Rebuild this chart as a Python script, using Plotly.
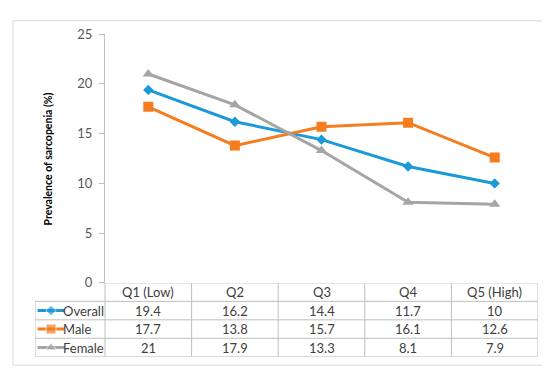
import plotly.graph_objects as go

categories = ["Q1 (Low)", "Q2", "Q3", "Q4", "Q5 (High)"]
overall = [19.4, 16.2, 14.4, 11.7, 10]
male = [17.7, 13.8, 15.7, 16.1, 12.6]
female = [21, 17.9, 13.3, 8.1, 7.9]
series_names = ["Overall", "Male", "Female"]
y_ticks = [0, 5, 10, 15, 20, 25]

W, H = 550, 369
colors = ["#1b9ad7", "#f47d20", "#a5a5a5"]
symbols = ["diamond", "square", "triangle-up"]
msizes = [8, 10, 10]
series = [overall, male, female]
FONT = "Lato"
FS = 13

# pixel layout
px_left, px_right = 97, 530
px_top, px_axis = 19, 279
row_h = 19.3
n_rows = 1 + len(series_names)
px_tbl_bottom = px_axis + row_h * n_rows
px_tbl_left = 27

def fx(p): return p / W
def fy(p): return 1 - p / H

ncat = len(categories)
cat_w = (px_right - px_left) / ncat
lab_w = (px_left - px_tbl_left) / cat_w
x2_min = -0.5 - lab_w

fig = go.Figure()
for name, vals, c, s, ms in zip(series_names, series, colors, symbols, msizes):
    fig.add_trace(go.Scatter(
        x=list(range(ncat)), y=vals, mode="lines+markers", name=name,
        line=dict(color=c, width=3), marker=dict(symbol=s, size=ms, color=c),
        xaxis="x", yaxis="y", showlegend=False, hoverinfo="skip"))

# legend keys in table (xaxis2/yaxis2: rows counted from top)
for i, (name, c, s, ms) in enumerate(zip(series_names, colors, symbols, msizes)):
    yc = n_rows - 1 - i - 0.5
    k0 = x2_min + 0.03
    k1 = x2_min + 0.34
    fig.add_trace(go.Scatter(
        x=[k0, (k0 + k1) / 2, k1], y=[yc, yc, yc], mode="lines+markers",
        line=dict(color=c, width=3),
        marker=dict(symbol=s, size=[0, ms, 0], color=c),
        xaxis="x2", yaxis="y2", showlegend=False, hoverinfo="skip"))

annotations = []
text_color = "#404040"
# header
for j, cat in enumerate(categories):
    annotations.append(dict(x=j, y=n_rows - 0.5, xref="x2", yref="y2", text=cat,
                            showarrow=False, font=dict(family=FONT, size=FS, color=text_color)))
for i, (name, vals) in enumerate(zip(series_names, series)):
    yc = n_rows - 1 - i - 0.5
    annotations.append(dict(x=x2_min + 0.34, y=yc, xref="x2", yref="y2", text=name,
                            xanchor="left", showarrow=False, xshift=-3,
                            font=dict(family=FONT, size=FS, color=text_color)))
    for j, v in enumerate(vals):
        annotations.append(dict(x=j, y=yc, xref="x2", yref="y2", text=f"{v:g}",
                                showarrow=False, font=dict(family=FONT, size=FS, color=text_color)))

annotations.append(dict(x=fx(32), y=fy(150), xref="paper", yref="paper",
                        text="<b>Prevalence of sarcopenia (%)</b>", textangle=-90,
                        showarrow=False, font=dict(family=FONT, size=10.5, color="#000000")))

grid_c = "#bfbfbf"
shapes = []
# outer border
shapes.append(dict(type="rect", xref="paper", yref="paper", x0=fx(5), x1=fx(544), y0=fy(365), y1=fy(5),
                   line=dict(color="#d9d9d9", width=1)))
# table horizontal lines
for r in range(n_rows):
    shapes.append(dict(type="line", xref="x2", yref="y2", x0=x2_min, x1=ncat - 0.5, y0=r, y1=r,
                       line=dict(color=grid_c, width=1)))
shapes.append(dict(type="line", xref="x2", yref="y2", x0=-0.5, x1=ncat - 0.5, y0=n_rows, y1=n_rows,
                   line=dict(color=grid_c, width=1)))
# table vertical lines
shapes.append(dict(type="line", xref="x2", yref="y2", x0=x2_min, x1=x2_min, y0=0, y1=n_rows - 1,
                   line=dict(color=grid_c, width=1)))
for j in range(ncat + 1):
    shapes.append(dict(type="line", xref="x2", yref="y2", x0=j - 0.5, x1=j - 0.5, y0=0, y1=n_rows,
                       line=dict(color=grid_c, width=1)))

fig.update_layout(
    width=W, height=H, margin=dict(l=0, r=0, t=0, b=0),
    paper_bgcolor="white", plot_bgcolor="rgba(0,0,0,0)",
    xaxis=dict(domain=[fx(px_left), fx(px_right)], range=[-0.5, ncat - 0.5],
               showticklabels=False, showgrid=False, zeroline=False, showline=False,
               fixedrange=True),
    yaxis=dict(domain=[fy(px_axis), fy(px_top)], range=[0, 25], tickvals=y_ticks,
               showgrid=False, zeroline=False, showline=True, linecolor=grid_c, linewidth=1,
               ticks="outside", ticklen=5, tickcolor=grid_c, ticklabelstandoff=4,
               tickfont=dict(family=FONT, size=FS, color="#595959")),
    xaxis2=dict(domain=[fx(px_tbl_left), fx(px_right)], range=[x2_min, ncat - 0.5],
                anchor="y2", visible=False),
    yaxis2=dict(domain=[fy(px_tbl_bottom), fy(px_axis)], range=[0, n_rows],
                anchor="x2", visible=False),
    shapes=shapes, annotations=annotations,
)

fig.write_html("out.html")
